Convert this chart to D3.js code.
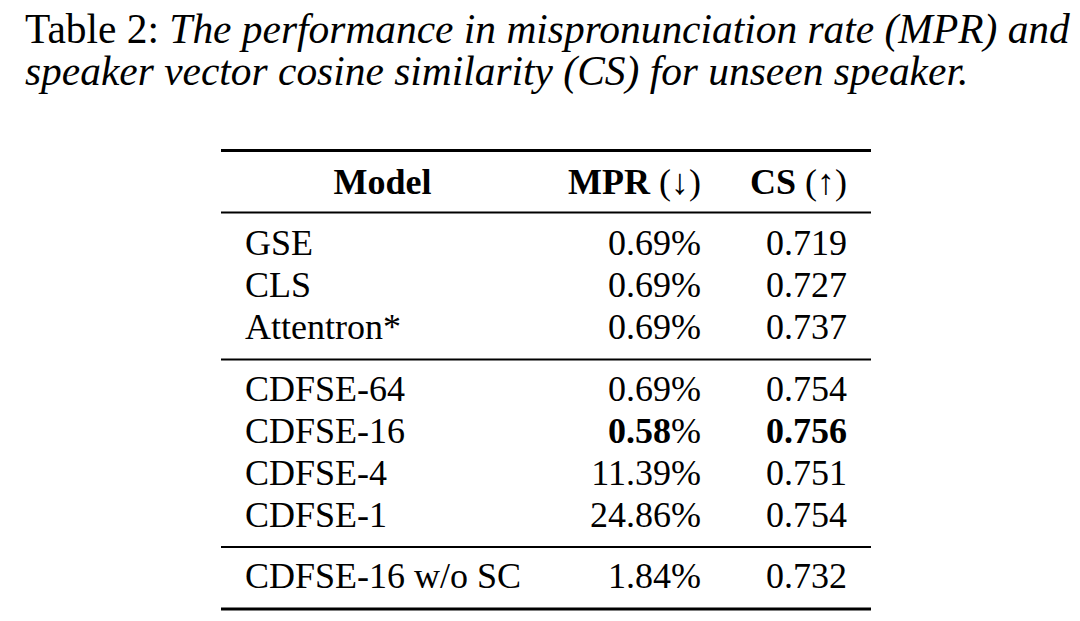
<!DOCTYPE html>
<html>
<head>
<meta charset="utf-8">
<script src="https://cdn.jsdelivr.net/npm/d3@7"></script>
<style>
  html, body { margin: 0; padding: 0; background: #fff; }
  svg { display: block; }
</style>
</head>
<body>
<svg id="chart" width="1080" height="621"></svg>
<script>
// ---- data ----
const captionLabel = "Table 2:";
const captionLines = [
  "The performance in mispronunciation rate (MPR) and",
  "speaker vector cosine similarity (CS) for unseen speaker."
];
const columns = ["Model", "MPR (\u2193)", "CS (\u2191)"];
const groups = [
  ["GSE", "CLS", "Attentron*"],
  ["CDFSE-64", "CDFSE-16", "CDFSE-4", "CDFSE-1"],
  ["CDFSE-16 w/o SC"]
];
const models = groups.flat();
const mpr = [0.69, 0.69, 0.69, 0.69, 0.58, 11.39, 24.86, 1.84];
const cs  = [0.719, 0.727, 0.737, 0.754, 0.756, 0.751, 0.754, 0.732];
const bestModel = "CDFSE-16";

// ---- layout ----
const svg = d3.select("#chart");
const serif = "'Liberation Serif', 'Times New Roman', Times, serif";
const fs = 36;

// caption
const capLeft = 25, capRight = 1070;
const cap = svg.append("g").attr("font-family", serif).attr("fill", "#000");
const l1 = cap.append("text").attr("x", capLeft).attr("y", 43);
l1.append("tspan").text(captionLabel + " ");
l1.append("tspan").attr("font-style", "italic").text(captionLines[0]);
const l2 = cap.append("text").attr("x", capLeft).attr("y", 85)
  .attr("font-style", "italic").text(captionLines[1]);
// fit caption font size so line 1 spans target width
l1.attr("font-size", 38); l2.attr("font-size", 38);
const w1 = l1.node().getComputedTextLength();
const capFs = 38 * (capRight - capLeft) / w1;
l1.attr("font-size", capFs); l2.attr("font-size", capFs);

// table geometry
const tableLeft = 221, tableRight = 871;
const modelX = d3.scaleLinear().domain([0, 1]).range([245, 520]);
const numRight = d3.scaleOrdinal().domain([columns[1], columns[2]]).range([701, 847]);

const topRule = 150.5, headerBase = 194, headRule = 212.5;
const rowStep = 42, firstGap = 42.5, ruleGapAbove = 20.5, ruleGapBelow = 41;

// compute row baselines and rule positions
const rowY = [];
const rules = [{y: topRule, w: 2.9}, {y: headRule, w: 1.8}];
let y = headRule + firstGap;
groups.forEach((g, gi) => {
  g.forEach((m, i) => {
    if (i > 0) y += rowStep;
    rowY.push(y);
  });
  const last = gi === groups.length - 1;
  const ry = y + ruleGapAbove + (last ? 0.5 : 0);
  rules.push({y: ry, w: last ? 2.9 : 1.8});
  y = ry + ruleGapBelow;
});

// rules
svg.append("g").selectAll("line").data(rules).join("line")
  .attr("x1", tableLeft).attr("x2", tableRight)
  .attr("y1", d => d.y).attr("y2", d => d.y)
  .attr("stroke", "#000").attr("stroke-width", d => d.w);

// header
const head = svg.append("g").attr("font-family", serif).attr("font-size", fs)
  .attr("font-weight", "bold").attr("fill", "#000");
head.append("text").attr("x", (modelX(0) + modelX(1)) / 2).attr("y", headerBase)
  .attr("text-anchor", "middle").text(columns[0]);
[columns[1], columns[2]].forEach(c => {
  const parts = c.split(" ");
  const t = head.append("text").attr("x", numRight(c)).attr("y", headerBase)
    .attr("text-anchor", "end");
  t.append("tspan").text(parts[0] + " ");
  t.append("tspan").attr("font-weight", "normal").text(parts[1]);
});

// body
const rows = models.map((m, i) => ({model: m, mpr: mpr[i], cs: cs[i], y: rowY[i]}));
const body = svg.append("g").attr("font-family", serif).attr("font-size", fs).attr("fill", "#000");
const r = body.selectAll("g.row").data(rows).join("g").attr("class", "row");
r.append("text").attr("x", modelX(0)).attr("y", d => d.y).text(d => d.model);
r.append("text").attr("x", numRight(columns[1])).attr("y", d => d.y)
  .attr("text-anchor", "end")
  .attr("font-weight", d => d.model === bestModel ? "bold" : "normal")
  .each(function(d) {
    const t = d3.select(this);
    t.append("tspan").text(d3.format(".2f")(d.mpr));
    t.append("tspan").attr("font-weight", "normal").text("%");
  });
r.append("text").attr("x", numRight(columns[2])).attr("y", d => d.y)
  .attr("text-anchor", "end")
  .attr("font-weight", d => d.model === bestModel ? "bold" : "normal")
  .text(d => d3.format(".3f")(d.cs));
</script>
</body>
</html>
